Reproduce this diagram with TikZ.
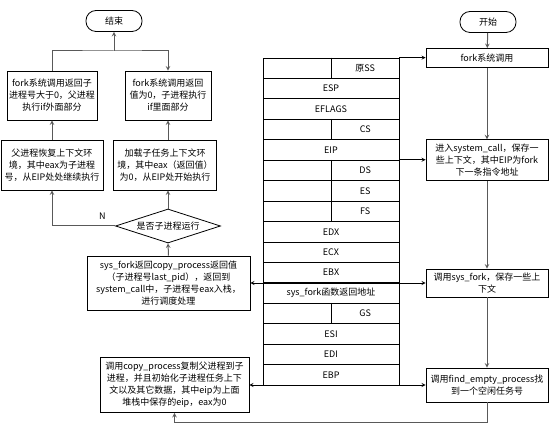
\documentclass[tikz,border=0pt]{standalone}
\usepackage{fontspec}
\setmainfont{Noto Sans CJK SC}
\usetikzlibrary{shapes.geometric, arrows, positioning}

\begin{document}
\begin{tikzpicture}[x=1pt, y=-1pt, font=\fontsize{9}{12}\selectfont]
    \tikzstyle{startstop} = [rectangle, rounded corners=10pt, minimum width=56pt, minimum height=21pt, draw=black, line width=0.8pt]
    \tikzstyle{process} = [rectangle, align=center, inner sep=1pt, draw=black, line width=0.8pt]
    \tikzstyle{decision} = [diamond, shape aspect=3, inner sep=0pt, minimum width=105pt, minimum height=34pt, draw=black, line width=0.8pt]
    \tikzstyle{cell} = [rectangle, draw=black, line width=0.8pt, minimum width=136pt, minimum height=20.44pt, inner sep=0pt]
    \tikzstyle{arrow} = [line width=1pt, draw=gray!70!black, ->, >=stealth]
    \tikzstyle{link} = [line width=0.8pt, ->, >=stealth]

    \useasboundingbox (0,0) rectangle (558,427);

    % right column
    \node (start) [startstop] at (488,22) {开始};
    \node (fork) [process, minimum width=122pt, minimum height=19pt] at (487,58) {fork系统调用};
    \node (syscall) [process, minimum width=122pt, minimum height=41pt] at (487,160.2) {进入system\_call，保存一\\些上下文，其中EIP为fork\\下一条指令地址};
    \node (sysfork) [process, minimum width=122pt, minimum height=28pt] at (487,283) {调用sys\_fork，保存一些上\\下文};
    \node (findempty) [process, minimum width=122pt, minimum height=34pt] at (487,385) {调用find\_empty\_process找\\到一个空闲任务号};

    % kernel stack
    \foreach \lab/\sp [count=\i] in {原SS/1, ESP/0, EFLAGS/0, CS/1, EIP/0, DS/1, ES/1, FS/1, EDX/0, ECX/0, EBX/0, sys\_fork函数返回地址/0, GS/1, ESI/0, EDI/0, EBP/0} {
        \ifnum\sp=0
            \node (r\i) [cell] at (331, 47.78+20.44*\i) {\lab};
        \else
            \node (r\i) [cell] at (331, 47.78+20.44*\i) {};
            \draw[line width=0.8pt] (r\i.north) -- (r\i.south);
            \node [anchor=west, inner sep=0pt, minimum width=68pt] at (r\i.center) {\lab};
        \fi
    }

    % left column
    \node (copyproc) [process, minimum width=149pt, minimum height=55pt] at (174.5,385) {调用copy\_process复制父进程到子\\进程，并且初始化子进程任务上下\\文以及其它数据，其中eip为上面\\堆栈中保存的eip，eax为0};
    \node (sysret) [process, minimum width=163pt, minimum height=54pt] at (168.5,283) {sys\_fork返回copy\_process返回值\\（子进程号last\_pid），返回到\\system\_call中，子进程号eax入栈，\\进行调度处理};
    \node (ischild) [decision] at (168,226) {是否子进程运行};
    \node (parentctx) [process, minimum width=102pt, minimum height=50pt] at (52,165) {父进程恢复上下文环\\境，其中eax为子进程\\号，从EIP处处继续执行};
    \node (childctx) [process, minimum width=103pt, minimum height=50pt] at (165,165) {加载子任务上下文环\\境，其中eax（返回值）\\为0，从EIP处开始执行};
    \node (parentret) [process, minimum width=90pt, minimum height=49pt] at (52,95.5) {fork系统调用返回子\\进程号大于0，父进程\\执行if外面部分};
    \node (childret) [process, minimum width=86pt, minimum height=49pt] at (168,95.5) {fork系统调用返回\\值为0，子进程执行\\if里面部分};
    \node (end) [startstop] at (114,21) {结束};
    \coordinate (join) at (114,51);

    \draw [arrow] (start) -- (fork);
    \draw [arrow] (fork) -- (syscall);
    \draw [arrow] (syscall) -- (sysfork);
    \draw [arrow] (sysfork) -- (findempty);
    \draw [arrow] (findempty.south) -- ++(0,20) -| (copyproc.south);

    \draw [link] (r1.north east) -- (r1.north east -| fork.west);
    \draw [link] (r6.north east) -- (r6.north east -| syscall.west);
    \draw [link, <->] (sysret.east) -- (sysfork.west);
    \draw [link, <->] (copyproc.east) -- (findempty.west);

    \draw [arrow] (sysret.north) -- (ischild.south);
    \draw [arrow] (ischild.north) -- (ischild.north |- childctx.south);
    \draw [arrow] (ischild.west) -| node[pos=0.1, above=3pt, text=black] {N} (parentctx.south);
    \draw [arrow] (parentctx.north) -- (parentret.south);
    \draw [arrow] (childret.south |- childctx.north) -- (childret.south);
    \draw [arrow] (parentret.north) |- (join) -| (childret.north);
    \draw [arrow] (join) -- (end);
\end{tikzpicture}
\end{document}
